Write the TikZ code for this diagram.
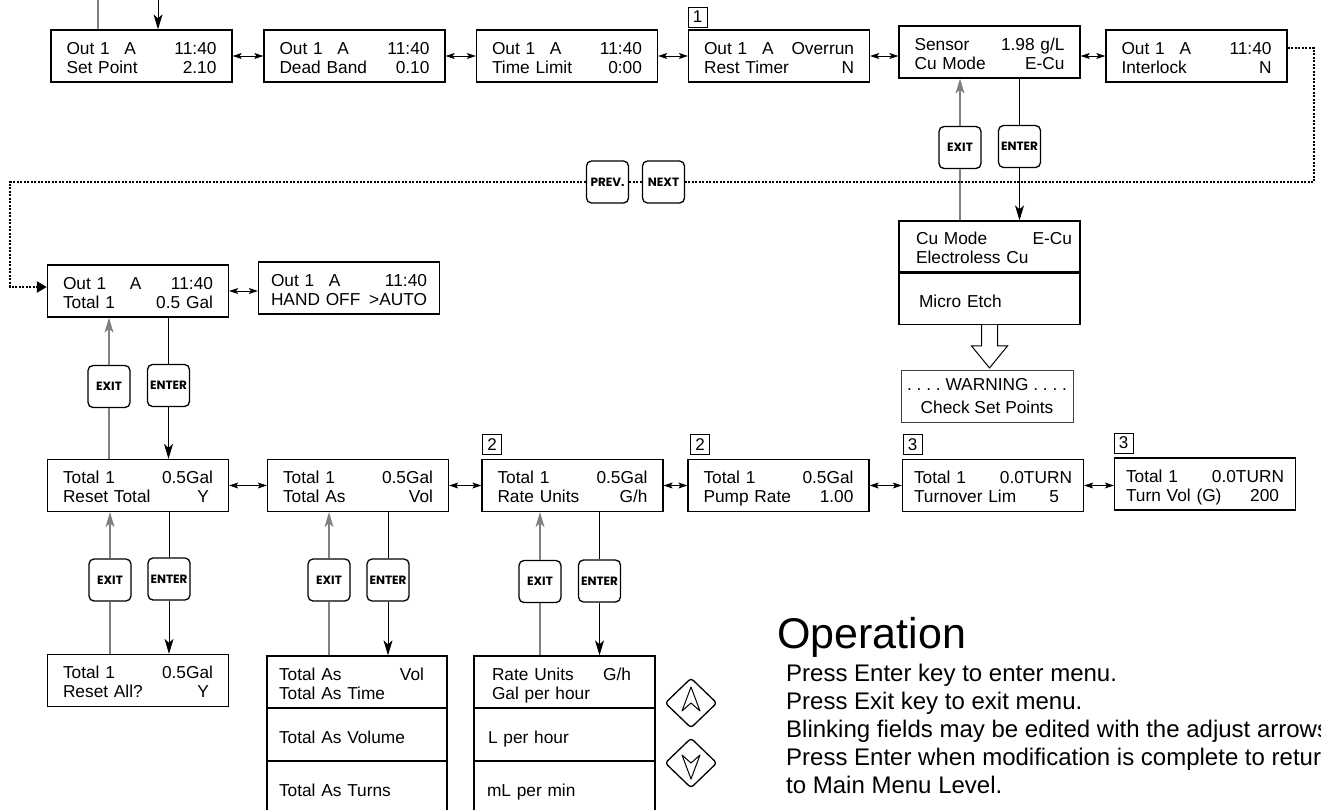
\documentclass[tikz,border=0pt]{standalone}
\usepackage{fontspec}
\setmainfont{Liberation Sans}
\newfontfamily\keyfont{Poppins}
\usetikzlibrary{arrows.meta, positioning, shapes.geometric}
\definecolor{exitgray}{gray}{0.5}
\newcommand{\lcdfont}{\fontsize{17.3}{19}\selectfont}
\newcommand{\lcdrow}[2]{\makebox[\hsize][l]{#1\hfill #2}}
\newcommand{\outA}{\makebox[58pt][l]{Out 1}A}
\tikzstyle{lcd} = [draw, line width=1.3pt, minimum width=181pt, minimum height=52pt, text width=150pt, align=left, inner sep=0pt, font=\lcdfont, execute at begin node={\rule{0pt}{19.2pt}}, execute at end node={\rule[-3.6pt]{0pt}{3.6pt}}]
\tikzstyle{onecell} = [draw, line width=1.3pt, minimum width=181pt, minimum height=51.5pt, text width=150pt, align=left, inner sep=0pt, font=\lcdfont, execute at begin node={\rule[-4pt]{0pt}{26pt}}]
\tikzstyle{warn} = [draw=black!75, line width=1pt, minimum width=172pt, minimum height=52pt, align=center, inner sep=0pt, font=\fontsize{17.3}{23}\selectfont\frenchspacing]
\tikzstyle{tagbox} = [draw, line width=0.7pt, minimum width=19pt, minimum height=20pt, inner sep=0pt, font=\fontsize{17}{17}\selectfont]
\tikzstyle{keybtn} = [draw, rounded corners=5pt, line width=1.3pt, minimum size=42pt, inner sep=0pt, fill=white, font=\keyfont\fontsize{12}{12}\selectfont\bfseries]
\tikzstyle{adjkey} = [draw, diamond, rounded corners=3pt, line width=1.3pt, minimum width=52pt, minimum height=50pt, inner sep=0pt]
\tikzstyle{enterline} = [line width=1pt, black]
\tikzstyle{exitline} = [line width=1.2pt, exitgray]
\tikzstyle{dbl} = [line width=0.9pt, arrows={Stealth[length=9pt,width=6pt,inset=2pt]-Stealth[length=9pt,width=6pt,inset=2pt]}]
\tikzstyle{pathline} = [line width=2.3pt, dash pattern=on 2.2pt off 1.3pt]
\tikzstyle{optext} = [anchor=base west, inner sep=0pt, font=\fontsize{24}{28}\selectfont]

\begin{document}
\begin{tikzpicture}[x=1pt, y=1pt, >={Stealth[length=15pt,width=9pt,inset=4pt]}, node distance=212pt]
    \useasboundingbox (0,0) rectangle (1321,-810);
    % output menu, top row
    \node [lcd] (A1) at (141.5,-56) {\lcdrow{\outA}{11:40}\\\lcdrow{Set Point}{2.10}};
    \node [lcd, right of=A1, node distance=213pt] (A2) {\lcdrow{\outA}{11:40}\\\lcdrow{Dead Band}{0.10}};
    \node [lcd, right of=A2, node distance=212.5pt] (A3) {\lcdrow{\outA}{11:40}\\\lcdrow{Time Limit}{0:00}};
    \node [lcd, right of=A3] (A4) {\lcdrow{\outA}{Overrun}\\\lcdrow{Rest Timer}{N}};
    \node [lcd, right of=A4, node distance=210.5pt, yshift=4pt] (A5) {\lcdrow{Sensor}{1.98 g/L}\\\lcdrow{Cu Mode}{E-Cu}};
    \node [lcd, right of=A5, node distance=207pt, yshift=-4pt] (A6) {\lcdrow{\outA}{11:40}\\\lcdrow{Interlock}{N}};
    % totalizer row
    \node [lcd] (B1) at (138,-291) {\lcdrow{\makebox[67pt][l]{Out 1}A}{11:40}\\\lcdrow{Total 1}{0.5 Gal}};
    \node [lcd, right of=B1, node distance=211pt, yshift=3pt, text width=156pt] (B2) {\lcdrow{\outA}{11:40}\\\lcdrow{HAND OFF}{>AUTO}};
    % Cu mode choices
    \node [lcd, minimum height=51pt, text width=147pt] (C1) at (989.5,-246.5) {\lcdrow{Cu Mode}{E-Cu\hspace{-9pt}}\\\lcdrow{Electroless Cu}{}};
    \node [onecell, minimum height=51pt, text width=147pt, below=0pt of C1] (C2) {\hspace{3pt}Micro Etch};
    \node [warn] (W) at (987,-396) {. . . . WARNING . . . .\\Check Set Points};
    % total settings row
    \node [lcd] (D1) at (138,-485.5) {\lcdrow{Total 1}{0.5Gal}\\\lcdrow{Reset Total}{Y\hspace{4pt}}};
    \node [lcd, right of=D1, node distance=220pt] (D2) {\lcdrow{Total 1}{0.5Gal}\\\lcdrow{Total As}{Vol}};
    \node [lcd, right of=D2, node distance=214.5pt] (D3) {\lcdrow{Total 1}{0.5Gal}\\\lcdrow{Rate Units}{G/h}};
    \node [lcd, right of=D3, node distance=206pt] (D4) {\lcdrow{Total 1}{0.5Gal}\\\lcdrow{Pump Rate}{1.00}};
    \node [lcd, right of=D4, node distance=214.5pt, text width=158pt] (D5) {\lcdrow{Total 1}{0.0TURN}\\\lcdrow{Turnover Lim}{5\hspace{13pt}}};
    \node [lcd, right of=D5, text width=158pt, yshift=1.5pt] (D6) {\lcdrow{Total 1}{0.0TURN}\\\lcdrow{Turn Vol (G)}{200\hspace{5pt}}};
    % bottom row and choice lists
    \node [lcd] (E1) at (138,-680.5) {\lcdrow{Total 1}{0.5Gal}\\\lcdrow{Reset All?}{Y\hspace{4pt}}};
    \node [lcd, minimum width=180pt, minimum height=51.5pt, text width=156pt] (E2a) at (357,-681.75) {\lcdrow{Total As}{Vol\hspace{11pt}}\\\lcdrow{Total As Time}{}};
    \node [onecell, minimum width=180pt, text width=156pt, below=0pt of E2a] (E2b) {Total As Volume};
    \node [onecell, minimum width=180pt, text width=156pt, below=0pt of E2b] (E2c) {Total As Turns};
    \node [lcd, minimum height=51.5pt, text width=145pt] (E3a) at (564.5,-681.75) {\lcdrow{Rate Units}{G/h\hspace{6pt}}\\\lcdrow{Gal per hour}{}};
    \node [onecell, text width=145pt, below=0pt of E3a] (E3b) {\hspace{-4pt}L per hour};
    \node [onecell, text width=145pt, below=0pt of E3b] (E3c) {\hspace{-5pt}mL per min};
    % adjust keys
    \node [adjkey] (up) at (691,-703) {};
    \node [adjkey] (down) at (691,-763) {};
    \draw [line width=1pt, line join=round] ([yshift=16pt]up.center) -- ([shift={(9pt,-8pt)}]up.center) -- (up.center) -- ([shift={(-9pt,-8pt)}]up.center) -- cycle;
    \draw [line width=1pt, line join=round] ([yshift=-16pt]down.center) -- ([shift={(9pt,8pt)}]down.center) -- (down.center) -- ([shift={(-9pt,8pt)}]down.center) -- cycle;
    % section markers
    \node [tagbox, anchor=south west] (tag1) at ([yshift=2pt]A4.north west) {1};
    \node [tagbox, anchor=south west] (tag2) at ([shift={(1pt,4pt)}]D3.north west) {2};
    \node [tagbox, anchor=south west] (tag3) at ([shift={(3pt,4pt)}]D4.north west) {2};
    \node [tagbox, anchor=south west] (tag4) at ([shift={(1pt,4pt)}]D5.north west) {3};
    \node [tagbox, anchor=south west] (tag5) at ([yshift=4pt]D6.north west) {3};
    % keys
    \node [keybtn] (exit0) at (960,-147.5) {EXIT};
    \node [keybtn] (enter0) at (1019.5,-146.5) {ENTER};
    \node [keybtn] (prev) at (607.5,-182) {PREV.};
    \node [keybtn] (next) at (663.5,-182) {NEXT};
    \node [keybtn] (exit1) at (109,-386.5) {EXIT};
    \node [keybtn] (enter1) at (168.5,-385.5) {ENTER};
    \node [keybtn] (exit2) at (110,-580) {EXIT};
    \node [keybtn] (enter2) at (169,-579) {ENTER};
    \node [keybtn] (exit3) at (329,-580) {EXIT};
    \node [keybtn] (enter3) at (388,-580) {ENTER};
    \node [keybtn] (exit4) at (540,-581.5) {EXIT};
    \node [keybtn] (enter4) at (599.5,-581) {ENTER};
    % free ends
    \coordinate (topexit) at (98,0);
    \coordinate (topenter) at (158,0);
    \coordinate (loopR) at (1314,-182);
    \coordinate (loopL) at (10,-182);
    % menu entry lines
    \draw [exitline] (A1.north -| topexit) -- (topexit);
    \draw [enterline, ->] (topenter) -- (A1.north -| topenter);
    \foreach \boxa/\boxb/\idx in {A5/C1/0, B1/D1/1, D1/E1/2, D2/E2a/3, D3/E3a/4} {
        \draw [exitline] (\boxb.north -| exit\idx) -- (exit\idx.south);
        \draw [exitline, ->] (exit\idx.north) -- (\boxa.south -| exit\idx);
        \draw [enterline] (\boxa.south -| enter\idx) -- (enter\idx.north);
        \draw [enterline, ->] (enter\idx.south) -- (\boxb.north -| enter\idx);
    }
    % scrolling between screens
    \foreach \boxa/\boxb in {A1/A2, A2/A3, A3/A4, A4/A5, B1/B2, D1/D2, D2/D3, D3/D4, D4/D5, D5/D6}
        \draw [dbl] (\boxa.east) -- (\boxa.east -| \boxb.west);
    \draw [dbl] (A6.west -| A5.east) -- (A6.west);
    % next / prev loop
    \draw [pathline] ([yshift=8pt]A6.east) -| (loopR) -- (next.east);
    \draw [pathline] (next.west) -- (prev.east);
    \draw [pathline, arrows={-Triangle[length=10pt,width=11pt]}] (prev.west) -- (loopL) |- ([yshift=4pt]B1.west);
    % warning arrow
    \draw [line width=1pt, fill=white] ([xshift=-8pt]C2.south) -- ++(0,-21) -- ++(-10,0) -- ++(18,-22) -- ++(18,22) -- ++(-10,0) -- ++(0,21);
    % operation notes
    \node [anchor=base west, inner sep=0pt, font=\fontsize{43}{43}\selectfont] (ophead) at (777,-648) {Operation};
    \foreach \opline [count=\opno from 0] in {Press Enter key to enter menu., Press Exit key to exit menu., Blinking fields may be edited with the adjust arrows., Press Enter when modification is complete to return, to Main Menu Level.}
        \node [optext] (op\opno) at (786,{-681-28*\opno}) {\opline};
\end{tikzpicture}
\end{document}
